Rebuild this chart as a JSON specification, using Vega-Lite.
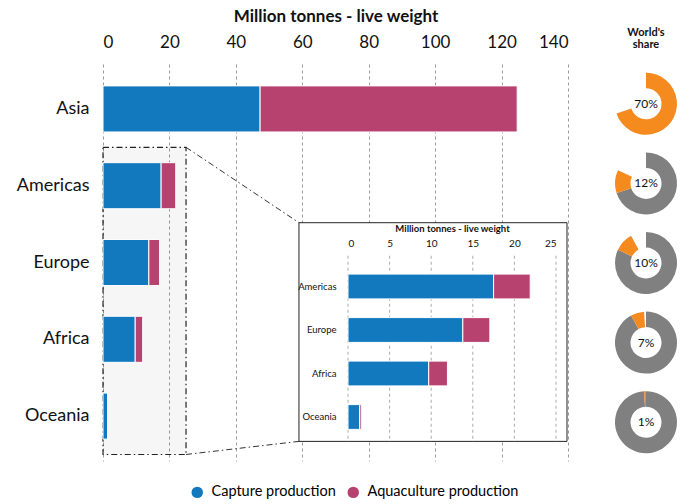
{
  "$schema": "https://vega.github.io/schema/vega-lite/v6.json",
  "padding": {"left": 5, "right": 5, "top": 7, "bottom": 5},
  "config": {
    "font": "Lato",
    "view": {"stroke": null},
    "axis": {"labelColor": "#111", "titleColor": "#111"},
    "title": {"color": "#111"}
  },
  "datasets": {
    "prod": [
      {"region": "Asia", "type": "Capture production", "value": 47.3},
      {"region": "Asia", "type": "Aquaculture production", "value": 77.4},
      {"region": "Americas", "type": "Capture production", "value": 17.5},
      {"region": "Americas", "type": "Aquaculture production", "value": 4.4},
      {"region": "Europe", "type": "Capture production", "value": 13.8},
      {"region": "Europe", "type": "Aquaculture production", "value": 3.25},
      {"region": "Africa", "type": "Capture production", "value": 9.7},
      {"region": "Africa", "type": "Aquaculture production", "value": 2.25},
      {"region": "Oceania", "type": "Capture production", "value": 1.4},
      {"region": "Oceania", "type": "Aquaculture production", "value": 0.2}
    ],
    "share": [
      {"region": "Asia", "segment": "region", "from": 0, "to": 0.70, "share": 0.70},
      {"region": "Americas", "segment": "before", "from": 0, "to": 0.70},
      {"region": "Americas", "segment": "region", "from": 0.70, "to": 0.82, "share": 0.12},
      {"region": "Europe", "segment": "before", "from": 0, "to": 0.82},
      {"region": "Europe", "segment": "region", "from": 0.82, "to": 0.92, "share": 0.10},
      {"region": "Africa", "segment": "before", "from": 0, "to": 0.92},
      {"region": "Africa", "segment": "region", "from": 0.92, "to": 0.99, "share": 0.07},
      {"region": "Oceania", "segment": "before", "from": 0, "to": 0.99},
      {"region": "Oceania", "segment": "region", "from": 0.99, "to": 1.0, "share": 0.01}
    ],
    "annot": [
      {"k": "zoombox", "x0": 0, "x1": 25, "r0": "Americas", "r1": "Oceania"},
      {"k": "link1", "x0": 25, "x1": 59, "r0": "Americas", "r1": "Europe"},
      {"k": "link2", "x0": 25, "x1": 59, "r0": "Oceania", "r1": "Oceania"},
      {"k": "inset", "x0": 59, "x1": 139.7, "r0": "Europe", "r1": "Oceania"}
    ],
    "insetGrid": [
      {"t": 0, "r0": "Americas", "r1": "Oceania"},
      {"t": 5, "r0": "Americas", "r1": "Oceania"},
      {"t": 10, "r0": "Americas", "r1": "Oceania"},
      {"t": 15, "r0": "Americas", "r1": "Oceania"},
      {"t": 20, "r0": "Americas", "r1": "Oceania"},
      {"t": 25, "r0": "Americas", "r1": "Oceania"}
    ]
  },
  "bounds": "flush",
  "spacing": 47,
  "hconcat": [
    {
      "width": 465,
      "height": 397,
      "resolve": {"scale": {"x": "independent", "y": "independent"}, "axis": {"x": "independent", "y": "independent"}},
      "layer": [
        {
          "layer": [
            {
              "data": {"name": "annot"},
              "transform": [{"filter": "datum.k === 'zoombox'"}],
              "mark": {"type": "rect", "fill": "#000", "fillOpacity": 0.035, "stroke": "#222", "strokeWidth": 1.2, "strokeDash": [6, 3, 1.5, 3], "y2Offset": 38.4},
              "encoding": {
                "x": {"field": "x0", "type": "quantitative"},
                "x2": {"field": "x1"},
                "y": {"field": "r0", "type": "nominal", "bandPosition": 0},
                "y2": {"field": "r1"}
              }
            },
            {
              "data": {"name": "prod"},
              "mark": {"type": "bar", "height": {"band": 0.6}, "stroke": "white", "strokeWidth": 1},
              "encoding": {
                "x": {
                  "field": "value", "type": "quantitative", "stack": "zero",
                  "scale": {"domain": [0, 140], "nice": false},
                  "axis": {
                    "orient": "top", "values": [0, 20, 40, 60, 80, 100, 120, 140],
                    "grid": true, "gridDash": [3, 3], "gridColor": "#9a9a9a", "gridWidth": 1,
                    "domain": false, "ticks": false, "labelFontSize": 17, "labelPadding": 13,
                    "title": "Million tonnes - live weight", "titleFontSize": 17, "titleFontWeight": "bold", "titlePadding": 8
                  }
                },
                "y": {
                  "field": "region", "type": "nominal",
                  "scale": {"domain": ["Asia", "Americas", "Europe", "Africa", "Oceania"], "paddingInner": 0, "paddingOuter": 0.085},
                  "axis": {"orient": "left", "title": null, "labelFontSize": 18, "labelPadding": 14, "ticks": false, "domain": false, "minExtent": 98, "maxExtent": 98}
                },
                "color": {
                  "field": "type", "type": "nominal",
                  "scale": {"domain": ["Capture production", "Aquaculture production"], "range": ["#1379BF", "#B8426F"]},
                  "legend": {"orient": "none", "legendX": 87, "legendY": 421, "direction": "horizontal", "title": null, "symbolType": "circle", "symbolSize": 130, "symbolStrokeWidth": 0, "labelFontSize": 14.5, "labelLimit": 300, "columnPadding": 10, "labelOffset": 7}
                },
                "order": {"field": "type", "sort": "descending"}
              }
            },
            {
              "data": {"name": "annot"},
              "transform": [{"filter": "datum.k === 'link1'"}],
              "mark": {"type": "rule", "stroke": "#333", "strokeWidth": 1, "strokeDash": [6, 3, 1.5, 3], "y2Offset": -39.8},
              "encoding": {
                "x": {"field": "x0", "type": "quantitative"},
                "x2": {"field": "x1"},
                "y": {"field": "r0", "type": "nominal", "bandPosition": 0},
                "y2": {"field": "r1"}
              }
            },
            {
              "data": {"name": "annot"},
              "transform": [{"filter": "datum.k === 'link2'"}],
              "mark": {"type": "rule", "stroke": "#333", "strokeWidth": 1, "strokeDash": [6, 3, 1.5, 3], "y2Offset": 25.3},
              "encoding": {
                "x": {"field": "x0", "type": "quantitative"},
                "x2": {"field": "x1"},
                "y": {"field": "r0", "type": "nominal", "bandPosition": 1},
                "y2": {"field": "r1"}
              }
            },
            {
              "data": {"name": "annot"},
              "transform": [{"filter": "datum.k === 'inset'"}],
              "mark": {"type": "rect", "fill": "white", "stroke": "#222", "strokeWidth": 1, "yOffset": -1.4, "y2Offset": 25.3},
              "encoding": {
                "x": {"field": "x0", "type": "quantitative"},
                "x2": {"field": "x1"},
                "y": {"field": "r0", "type": "nominal", "bandPosition": 0},
                "y2": {"field": "r1"}
              }
            }
          ]
        },
        {
          "layer": [
            {
              "data": {"name": "insetGrid"},
              "mark": {"type": "rule", "stroke": "#aaa", "strokeWidth": 1, "strokeDash": [3, 3], "yOffset": -9, "y2Offset": 25},
              "encoding": {
                "x": {"field": "t", "type": "quantitative"},
                "y": {"field": "r0", "type": "nominal", "bandPosition": 0},
                "y2": {"field": "r1"}
              }
            },
            {
              "data": {"name": "prod"},
              "transform": [{"filter": "datum.region !== 'Asia'"}],
              "mark": {"type": "bar", "height": {"band": 0.57}, "stroke": "white", "strokeWidth": 1},
              "encoding": {
                "x": {
                  "field": "value", "type": "quantitative", "stack": "zero",
                  "scale": {"domain": [0, 25], "nice": false, "range": [245, 453]},
                  "axis": {
                    "orient": "top", "offset": -187, "zindex": 1, "values": [0, 5, 10, 15, 20, 25],
                    "grid": false, "domain": false, "ticks": false, "labelFontSize": 10, "labelPadding": 3,
                    "title": "Million tonnes - live weight", "titleFontSize": 9.5, "titleFontWeight": "bold", "titlePadding": 5
                  }
                },
                "y": {
                  "field": "region", "type": "nominal",
                  "scale": {"domain": ["Americas", "Europe", "Africa", "Oceania"], "range": [200.75, 374.75], "paddingInner": 0, "paddingOuter": 0},
                  "axis": {"orient": "left", "offset": -236, "zindex": 1, "title": null, "labelFontSize": 9.5, "labelPadding": 3, "ticks": false, "domain": false}
                },
                "color": {"field": "type", "type": "nominal"},
                "order": {"field": "type", "sort": "descending"}
              }
            }
          ]
        }
      ]
    },
    {
      "width": 62,
      "height": 398,
      "data": {"name": "share"},
      "title": {"text": ["World's", "share"], "fontSize": 11, "fontWeight": "bold", "offset": 14, "lineHeight": 12, "anchor": "middle"},
      "encoding": {
        "y": {
          "field": "region", "type": "nominal",
          "scale": {"domain": ["Asia", "Americas", "Europe", "Africa", "Oceania"], "paddingInner": 0, "paddingOuter": 0},
          "axis": null
        }
      },
      "layer": [
        {
          "transform": [{"filter": "datum.segment === 'before'"}],
          "mark": {"type": "arc", "outerRadius": 31, "innerRadius": 15.5, "color": "#808080"},
          "encoding": {
            "theta": {"field": "from", "type": "quantitative", "scale": {"domain": [0, 1]}},
            "theta2": {"field": "to"}
          }
        },
        {
          "transform": [{"filter": "datum.segment === 'region'"}],
          "mark": {"type": "arc", "outerRadius": 31, "innerRadius": 15.5, "color": "#F58A1F"},
          "encoding": {
            "theta": {"field": "from", "type": "quantitative", "scale": {"domain": [0, 1]}},
            "theta2": {"field": "to"}
          }
        },
        {
          "transform": [{"filter": "datum.segment === 'region'"}],
          "mark": {"type": "text", "fontSize": 12, "color": "#111"},
          "encoding": {"text": {"field": "share", "type": "quantitative", "format": ".0%"}}
        }
      ]
    }
  ]
}
